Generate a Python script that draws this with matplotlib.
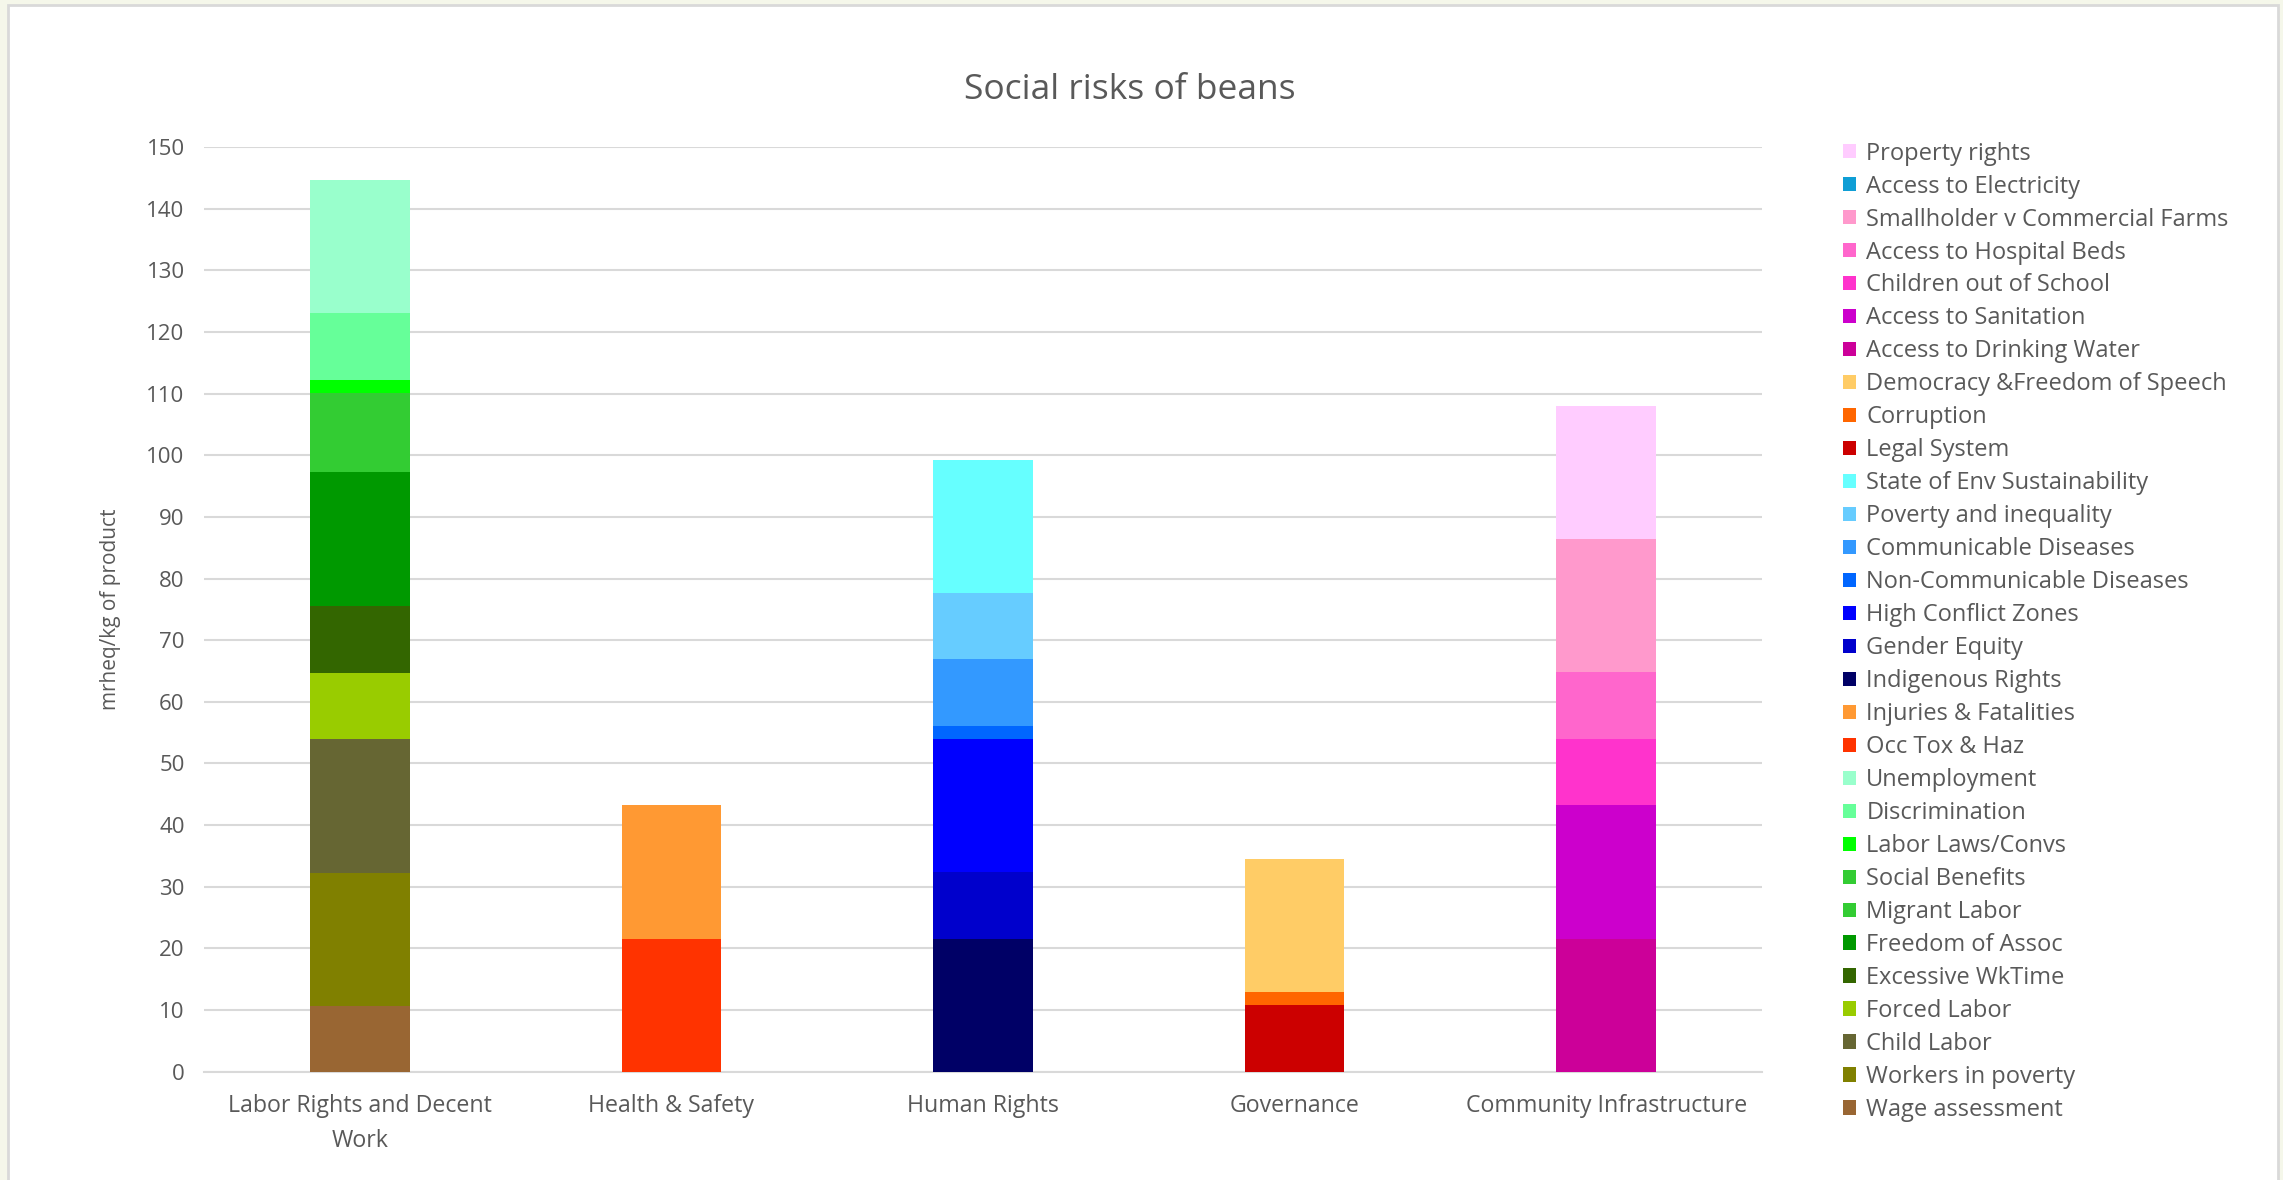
import numpy as np
import matplotlib.pyplot as plt
from matplotlib.patches import Rectangle, Patch

### data: social risks of beans (mrheq/kg of product)
categories = ["Labor Rights and Decent\nWork", "Health & Safety", "Human Rights",
              "Governance", "Community Infrastructure"]

# series in stacking order (bottom to top), category each belongs to, value
series = ["Wage assessment", "Workers in poverty", "Child Labor", "Forced Labor",
          "Excessive WkTime", "Freedom of Assoc", "Migrant Labor", "Social Benefits",
          "Labor Laws/Convs", "Discrimination", "Unemployment",
          "Occ Tox & Haz", "Injuries & Fatalities",
          "Indigenous Rights", "Gender Equity", "High Conflict Zones",
          "Non-Communicable Diseases", "Communicable Diseases", "Poverty and inequality",
          "State of Env Sustainability",
          "Legal System", "Corruption", "Democracy &Freedom of Speech",
          "Access to Drinking Water", "Access to Sanitation", "Children out of School",
          "Access to Hospital Beds", "Smallholder v Commercial Farms",
          "Access to Electricity", "Property rights"]
series_cat = [0, 0, 0, 0, 0, 0, 0, 0, 0, 0, 0,
              1, 1,
              2, 2, 2, 2, 2, 2, 2,
              3, 3, 3,
              4, 4, 4, 4, 4, 4, 4]
series_val = [10.7, 21.6, 21.6, 10.8, 10.8, 21.8, 10.8, 2.0, 2.1, 10.8, 21.6,
              21.6, 21.6,
              21.6, 10.8, 21.6, 2.1, 10.8, 10.8, 21.6,
              10.8, 2.1, 21.6,
              21.6, 21.6, 10.8, 10.8, 21.6, 0.0, 21.6]
colors = ["#996633", "#808000", "#666633", "#99CC00", "#336600", "#009900",
          "#33CC33", "#33CC33", "#00FF00", "#66FF99", "#99FFCC",
          "#FF3300", "#FF9933",
          "#000066", "#0000CC", "#0000FF", "#0066FF", "#3399FF", "#66CCFF", "#66FFFF",
          "#CC0000", "#FF6600", "#FFCC66",
          "#CC0099", "#CC00CC", "#FF33CC", "#FF66CC", "#FF99CC", "#0F9ED5", "#FFCCFF"]

plt.rcParams['font.family'] = ['Open Sans', 'DejaVu Sans']
txt = "#595959"
grid = "#D9D9D9"

fig = plt.figure(figsize=(22.83, 11.8), dpi=100)
fig.patch.set_facecolor("#F5F7EA")
fig.patches.append(Rectangle((8/2283, -0.01), 2270/2283, 1 - 5/1180 + 0.01,
                             transform=fig.transFigure, facecolor="white",
                             edgecolor=grid, linewidth=2, zorder=-5))

ax = fig.add_axes([0.0894, 0.0918, 0.6824, 0.7836])
ax.set_facecolor("white")
ax.set_zorder(2)

x = np.arange(len(categories))
bottoms = np.zeros(len(categories))
handles = []
for name, c, v, col in zip(series, series_cat, series_val, colors):
    h = np.zeros(len(categories))
    h[c] = v
    ax.bar(x, h, 0.32, bottom=bottoms, color=col, linewidth=0, zorder=3)
    bottoms += h
    handles.append(Patch(facecolor=col, label=name))

ax.set_xlim(-0.5, len(categories) - 0.5)
ax.set_ylim(0, 150)
ax.set_yticks(np.arange(0, 151, 10))
ax.yaxis.grid(True, color=grid, linewidth=1.5, zorder=0)
ax.set_axisbelow(True)
for s in ["top", "right", "left"]:
    ax.spines[s].set_visible(False)
ax.spines["bottom"].set_color(grid)
ax.spines["bottom"].set_linewidth(1.5)
ax.tick_params(length=0, labelsize=16, labelcolor=txt, pad=14)
ax.set_xticks(x)
ax.set_xticklabels(categories, fontsize=16.7, color=txt, linespacing=1.6)
ax.tick_params(axis="x", pad=16)
ax.set_ylabel("mrheq/kg of product", fontsize=15, color=txt, labelpad=18)

fig.text(0.495, 0.924, "Social risks of beans", ha="center", va="center",
         fontsize=25.5, color=txt)

leg = fig.legend(handles=handles[::-1], loc="upper left",
                 bbox_to_anchor=(0.803, 0.888), frameon=False, fontsize=17,
                 handlelength=0.55, handleheight=0.55, handletextpad=0.45,
                 labelspacing=0.38, borderaxespad=0)
for t in leg.get_texts():
    t.set_color(txt)

fig.savefig("out.png", dpi=100, facecolor=fig.get_facecolor())
